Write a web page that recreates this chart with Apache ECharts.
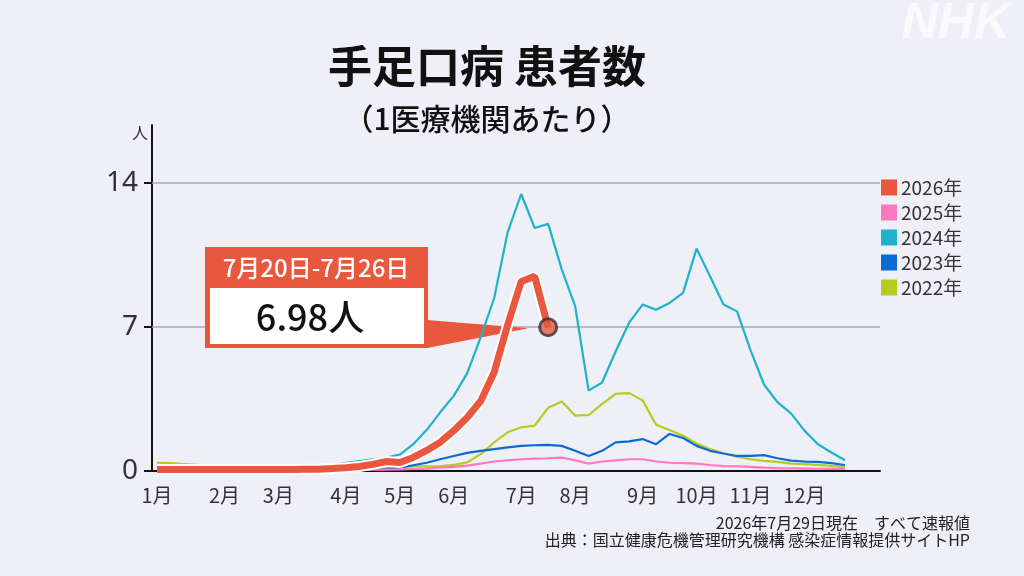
<!DOCTYPE html>
<html><head><meta charset="utf-8">
<script src="https://cdn.jsdelivr.net/npm/echarts@6/dist/echarts.min.js"></script>
<style>html,body{margin:0;padding:0;background:#efeff8;}#c{width:1024px;height:576px;}</style>
</head><body><div id="c"></div>
<script>
// ---- data ----
const weeks = [1,2,3,4,5,6,7,8,9,10,11,12,13,14,15,16,17,18,19,20,21,22,23,24,25,26,27,28,29,30,31,32,33,34,35,36,37,38,39,40,41,42,43,44,45,46,47,48,49,50,51,52];
const monthLabels = ['1月','2月','3月','4月','5月','6月','7月','8月','9月','10月','11月','12月'];
const monthWeeks = [1,6,10,15,19,23,28,32,37,41,45,49];
const yTicks = [0,7,14];
const seriesNames = ['2026年','2025年','2024年','2023年','2022年'];
const v2026 = [0.07,0.07,0.07,0.07,0.07,0.07,0.07,0.07,0.07,0.07,0.07,0.08,0.09,0.12,0.16,0.22,0.32,0.46,0.41,0.66,1.0,1.4,1.96,2.6,3.4,4.8,7.1,9.2,9.45,6.98];
const v2025 = [0.05,0.05,0.05,0.05,0.05,0.05,0.05,0.05,0.05,0.05,0.05,0.05,0.05,0.05,0.05,0.06,0.06,0.07,0.08,0.1,0.12,0.16,0.2,0.26,0.36,0.46,0.52,0.57,0.6,0.62,0.65,0.52,0.36,0.46,0.52,0.57,0.57,0.46,0.4,0.38,0.36,0.29,0.24,0.23,0.2,0.16,0.14,0.13,0.12,0.11,0.1,0.1];
const v2024 = [0.1,0.1,0.1,0.1,0.1,0.1,0.1,0.1,0.1,0.1,0.12,0.15,0.2,0.28,0.4,0.48,0.56,0.65,0.8,1.3,2.0,2.85,3.65,4.75,6.5,8.4,11.6,13.45,11.8,12.0,9.8,8.0,3.9,4.3,5.8,7.2,8.08,7.83,8.16,8.65,10.8,9.46,8.08,7.75,5.87,4.2,3.34,2.8,1.96,1.3,0.9,0.52];
const v2023 = [0.05,0.05,0.05,0.05,0.05,0.05,0.05,0.05,0.05,0.05,0.05,0.05,0.05,0.06,0.07,0.08,0.1,0.12,0.16,0.28,0.4,0.57,0.73,0.88,0.98,1.06,1.15,1.22,1.25,1.27,1.22,0.98,0.73,0.98,1.39,1.44,1.55,1.3,1.8,1.6,1.22,0.98,0.85,0.73,0.73,0.77,0.62,0.5,0.46,0.44,0.38,0.29];
const v2022 = [0.4,0.38,0.34,0.3,0.26,0.22,0.22,0.22,0.22,0.22,0.22,0.22,0.22,0.22,0.22,0.22,0.22,0.22,0.22,0.22,0.22,0.24,0.3,0.42,0.82,1.39,1.88,2.12,2.2,3.07,3.38,2.69,2.72,3.26,3.75,3.78,3.43,2.25,1.99,1.71,1.34,1.06,0.85,0.69,0.57,0.49,0.44,0.36,0.33,0.3,0.25,0.2];
const calloutTitle = '7月20日-7月26日';
const calloutValue = '6.98人';

// ---- styles ----
const C = {'2026年':'#e8573e','2025年':'#ff78bf','2024年':'#1fb2cd','2023年':'#0b6bd2','2022年':'#b3cc1f'};
const FONT = '"Noto Sans CJK JP","Noto Sans",sans-serif';
const pairs = vals => vals.map((v,i)=>[weeks[i], v]);

const chart = echarts.init(document.getElementById('c'), null, {renderer:'canvas'});

function lineSeries(name, vals, width, z, extra){
  return Object.assign({
    name, type:'line', data:pairs(vals), symbol:'none', z,
    lineStyle:{width, color:C[name]}, itemStyle:{color:C[name]},
    emphasis:{disabled:true}, silent:true
  }, extra||{});
}

const last = v2026.length-1;
chart.setOption({
  animation:false,
  backgroundColor:'#efeff8',
  grid:{left:152, right:144, top:125, bottom:105},
  legend:{
    data:seriesNames, orient:'vertical', left:876, top:173,
    icon:'rect', itemWidth:16, itemHeight:16, itemGap:6,
    textStyle:{fontFamily:FONT, fontSize:19, color:'#333', padding:[0,0,0,-1]},
    selectedMode:false
  },
  xAxis:{
    type:'value', min:0.63, max:54.6,
    axisLine:{show:true, onZero:false, lineStyle:{color:'#111', width:2}},
    axisTick:{show:false},
    splitLine:{show:false},
    axisLabel:{
      customValues:monthWeeks, margin:14,
      fontFamily:FONT, fontSize:20, color:'#333',
      formatter:v=>{const i=monthWeeks.indexOf(v); return i>=0?monthLabels[i]:'';}
    }
  },
  yAxis:{
    type:'value', min:0, max:16.8,
    axisLine:{show:true, lineStyle:{color:'#111', width:2}},
    axisTick:{show:true, customValues:yTicks, length:8, lineStyle:{color:'#111', width:2}},
    splitLine:{show:false},
    axisLabel:{customValues:yTicks, margin:14, fontFamily:'"Noto Sans",sans-serif', fontSize:28, color:'#333'}
  },
  series:[
    lineSeries('2022年', v2022, 2.2, 10, {
      markLine:{silent:true, symbol:['none','none'], z:1, label:{show:false},
        lineStyle:{type:'solid', color:'#a9a9b6', width:1.5},
        data:yTicks.filter(v=>v>0).map(v=>({yAxis:v}))}
    }),
    lineSeries('2023年', v2023, 2.2, 11),
    lineSeries('2025年', v2025, 2.2, 12),
    lineSeries('2024年', v2024, 2.2, 13),
    {name:'outline', type:'line', data:pairs(v2026), symbol:'none', z:14, silent:true,
      lineStyle:{width:11, color:'#ffffff'}, itemStyle:{color:'#ffffff'}},
    lineSeries('2026年', v2026, 7, 15),
    {name:'point', type:'scatter', data:[[weeks[last], v2026[last]]], z:20, silent:true,
      symbol:'circle', symbolSize:17,
      itemStyle:{color:C['2026年'], borderColor:'#333', borderWidth:3}}
  ]
});

const tip = chart.convertToPixel({xAxisIndex:0, yAxisIndex:0}, [weeks[last], v2026[last]]);
chart.setOption({
  graphic:[
    {type:'text', x:487, y:66, z:50, style:{text:'手足口病 患者数', font:'bold 44px '+FONT, fill:'#111', align:'center', verticalAlign:'middle'}},
    {type:'text', x:487, y:119, z:50, style:{text:'（1医療機関あたり）', font:'500 30px '+FONT, fill:'#111', align:'center', verticalAlign:'middle'}},
    {type:'text', x:140, y:133, z:50, style:{text:'人', font:'16px '+FONT, fill:'#333', align:'center', verticalAlign:'middle'}},
    {type:'text', x:1010, y:24, z:50, style:{text:'NHK', font:'italic 900 50px "Liberation Sans",sans-serif', fill:'#fafafd', align:'right', verticalAlign:'middle'}},
    {type:'text', x:970, y:523, z:50, style:{text:'2026年7月29日現在　すべて速報値', font:'16px '+FONT, fill:'#222', align:'right', verticalAlign:'middle'}},
    {type:'text', x:970, y:540, z:50, style:{text:'出典：国立健康危機管理研究機構 感染症情報提供サイトHP', font:'16px '+FONT, fill:'#222', align:'right', verticalAlign:'middle'}},
    {type:'polygon', z:5, shape:{points:[[427,320],[tip[0]-20, tip[1]+1],[427,348]]}, style:{fill:'#e9573f'}},
    {type:'rect', z:6, shape:{x:205, y:247, width:223, height:101}, style:{fill:'#e9573f'}},
    {type:'rect', z:7, shape:{x:210, y:288, width:214, height:56}, style:{fill:'#ffffff'}},
    {type:'text', x:316, y:268, z:8, style:{text:calloutTitle, font:'500 24px '+FONT, fill:'#ffffff', align:'center', verticalAlign:'middle'}},
    {type:'text', x:310, y:317, z:8, style:{text:calloutValue, font:'500 36px '+FONT, fill:'#111', align:'center', verticalAlign:'middle'}}
  ]
});
</script></body></html>
